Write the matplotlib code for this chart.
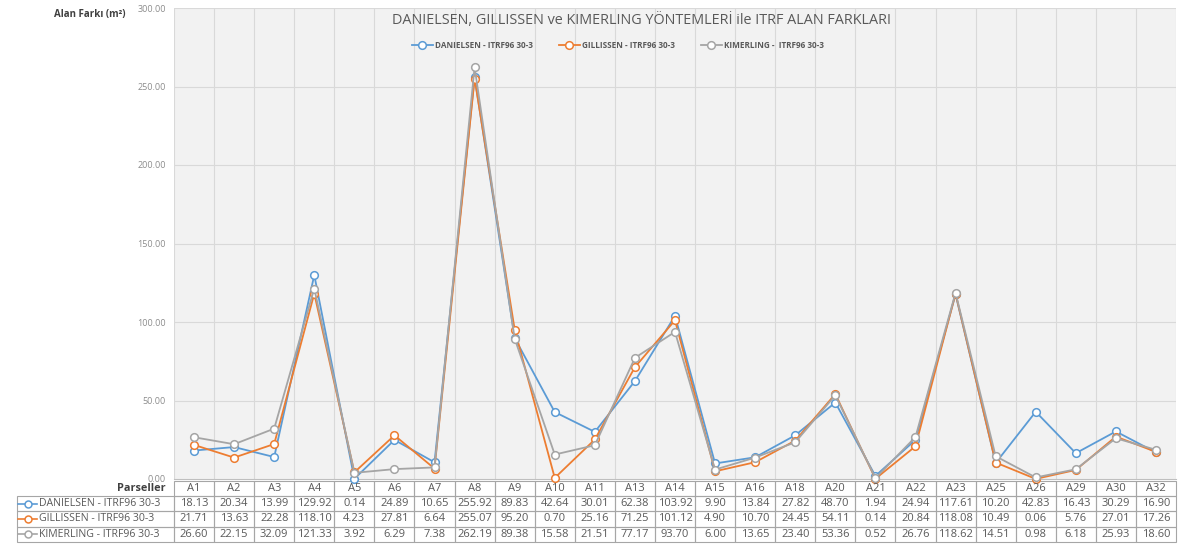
import matplotlib
matplotlib.use("Agg")
import matplotlib.pyplot as plt
import matplotlib.transforms as mtransforms
from matplotlib.patches import Rectangle
from matplotlib.lines import Line2D

plt.rcParams['font.family'] = ['Open Sans', 'DejaVu Sans']

parcels = ["A1", "A2", "A3", "A4", "A5", "A6", "A7", "A8", "A9", "A10", "A11", "A13",
           "A14", "A15", "A16", "A18", "A20", "A21", "A22", "A23", "A25", "A26", "A29",
           "A30", "A32"]

danielsen = [18.13, 20.34, 13.99, 129.92, 0.14, 24.89, 10.65, 255.92, 89.83, 42.64,
             30.01, 62.38, 103.92, 9.90, 13.84, 27.82, 48.70, 1.94, 24.94, 117.61,
             10.20, 42.83, 16.43, 30.29, 16.90]
gillissen = [21.71, 13.63, 22.28, 118.10, 4.23, 27.81, 6.64, 255.07, 95.20, 0.70,
             25.16, 71.25, 101.12, 4.90, 10.70, 24.45, 54.11, 0.14, 20.84, 118.08,
             10.49, 0.06, 5.76, 27.01, 17.26]
kimerling = [26.60, 22.15, 32.09, 121.33, 3.92, 6.29, 7.38, 262.19, 89.38, 15.58,
             21.51, 77.17, 93.70, 6.00, 13.65, 23.40, 53.36, 0.52, 26.76, 118.62,
             14.51, 0.98, 6.18, 25.93, 18.60]

series_names = ["DANIELSEN - ITRF96 30-3", "GILLISSEN - ITRF96 30-3", "KIMERLING - ITRF96 30-3"]
legend_names = ["DANIELSEN - ITRF96 30-3", "GILLISSEN - ITRF96 30-3", "KIMERLING -  ITRF96 30-3"]
colors = ["#5B9BD5", "#ED7D31", "#A5A5A5"]
title = "DANIELSEN, GILLISSEN ve KIMERLING YÖNTEMLERİ ile ITRF ALAN FARKLARI"
y_ticks = [0, 50, 100, 150, 200, 250, 300]

W, H = 1178, 544
AX_L, AX_R, AX_T, AX_B = 174, 1176, 8, 479
fig = plt.figure(figsize=(W / 100, H / 100), dpi=100)
fig.patch.set_facecolor("white")
ax = fig.add_axes([AX_L / W, 1 - AX_B / H, (AX_R - AX_L) / W, (AX_B - AX_T) / H])
ax.set_facecolor("#f2f2f2")

n = len(parcels)
x = list(range(n))
handles = []
for vals, name, c in zip([danielsen, gillissen, kimerling], legend_names, colors):
    h, = ax.plot(x, vals, color=c, lw=1.3, marker="o", ms=5.5, mfc="white",
                 mec=c, mew=1.1, label=name, zorder=3, clip_on=False)
    handles.append(h)

ax.set_xlim(-0.5, n - 0.5)
ax.set_ylim(0, 300)
ax.set_yticks(y_ticks)
ax.set_yticklabels([f"{v:.2f}" for v in y_ticks])
ax.tick_params(axis="y", length=0, labelsize=6.5, labelcolor="#8c8c8c", pad=6)
ax.set_xticks([])
for yv in y_ticks[1:]:
    ax.axhline(yv, color="#d9d9d9", lw=0.8, zorder=1)
for i in range(n + 1):
    ax.axvline(i - 0.5, color="#d9d9d9", lw=0.8, zorder=1)
for s in ["top", "right", "left"]:
    ax.spines[s].set_visible(False)
ax.spines["bottom"].set_color("#bfbfbf")

fig.text(642 / W, 1 - 20 / H, title, ha="center", va="center",
         fontsize=10.4, color="#595959")
fig.legend(handles=handles, loc="center", bbox_to_anchor=(618 / W, 1 - 45 / H),
           ncol=3, frameon=False, handlelength=2.5, handletextpad=0.3,
           columnspacing=3.2, prop={"weight": "bold", "size": 5.9},
           labelcolor="#595959")

fig.text(125 / W, 1 - 14 / H, "Alan Farkı (m²)", ha="right", va="center",
         fontsize=7, fontweight="bold", color="#404040")

# ---- data table below the plot ----
edge = "#a6a6a6"
txt_col = "#595959"
row_edges_px = [480.5, 496.0, 511.3, 526.6, 541.5]


def ay(px):
    return (AX_B - px) / (AX_B - AX_T)


def axx(px):
    return (px - AX_L) / (AX_R - AX_L)


col_tr = mtransforms.blended_transform_factory(ax.transData, ax.transAxes)
rows = [parcels,
        [f"{v:.2f}" for v in danielsen],
        [f"{v:.2f}" for v in gillissen],
        [f"{v:.2f}" for v in kimerling]]
for r, row in enumerate(rows):
    y0, y1 = ay(row_edges_px[r + 1]), ay(row_edges_px[r])
    for j, s in enumerate(row):
        ax.add_patch(Rectangle((j - 0.5, y0), 1, y1 - y0, transform=col_tr,
                               fill=False, ec=edge, lw=0.8, clip_on=False))
        ax.text(j, (y0 + y1) / 2, s, transform=col_tr, ha="center", va="center",
                fontsize=8, color=txt_col, clip_on=False)
    if r == 0:
        ax.text(axx(166), (y0 + y1) / 2, "Parseller", transform=ax.transAxes,
                ha="right", va="center", fontsize=7.8, fontweight="bold",
                color="#404040", clip_on=False)
    else:
        ax.add_patch(Rectangle((axx(17), y0), axx(AX_L) - axx(17), y1 - y0,
                               transform=ax.transAxes, fill=False, ec=edge, lw=0.8,
                               clip_on=False))
        ax.text(axx(39), (y0 + y1) / 2, series_names[r - 1], transform=ax.transAxes,
                ha="left", va="center", fontsize=7.6, color=txt_col, clip_on=False)
        col = colors[r - 1]
        yy = (y0 + y1) / 2
        ax.add_line(Line2D([axx(18), axx(37)], [yy, yy], color=col, lw=1.2,
                           transform=ax.transAxes, clip_on=False))
        ax.add_line(Line2D([axx(27.5)], [yy], color=col, marker="o", ms=5, mfc="white",
                           mec=col, mew=1.1, transform=ax.transAxes, clip_on=False))

fig.savefig("out.png", dpi=100, facecolor="white")
